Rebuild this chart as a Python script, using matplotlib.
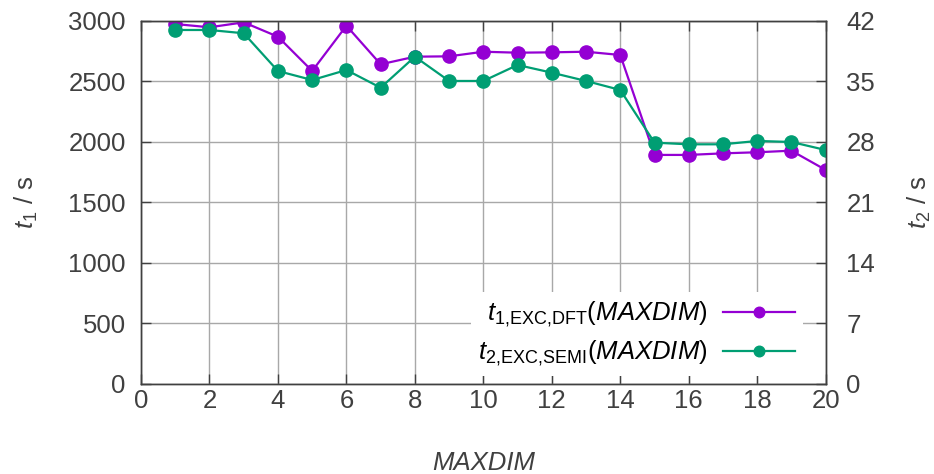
import matplotlib
matplotlib.use("Agg")
import matplotlib.pyplot as plt

plt.rcParams['font.family'] = ['Liberation Sans', 'DejaVu Sans']
plt.rcParams['mathtext.fontset'] = 'custom'
plt.rcParams['mathtext.rm'] = 'Liberation Sans'
plt.rcParams['mathtext.it'] = 'Liberation Sans:italic'
plt.rcParams['mathtext.bf'] = 'Liberation Sans:bold'

# data
maxdim = [1, 2, 3, 4, 5, 6, 7, 8, 9, 10, 11, 12, 13, 14, 15, 16, 17, 18, 19, 20]
t1_dft = [2975, 2948, 2989, 2870, 2587, 2961, 2642, 2705, 2708, 2746,
          2738, 2741, 2746, 2719, 1893, 1893, 1906, 1915, 1928, 1769]
t2_semi = [40.96, 40.96, 40.58, 36.21, 35.17, 36.33, 34.28, 37.87, 35.06, 35.06,
           36.91, 36.02, 35.06, 34.02, 27.92, 27.73, 27.73, 28.12, 28.0, 27.07]

x_ticks = list(range(0, 21, 2))
y1_ticks = list(range(0, 3001, 500))
y2_ticks = list(range(0, 43, 7))

purple = '#9400D3'
green = '#009E73'
textc = '#404040'
fs = 18.5

fig = plt.figure(figsize=(9.34, 4.74), dpi=100)
ax = fig.add_axes([0.151, 0.19, 0.733, 0.7657])
ax2 = ax.twinx()

l1, = ax.plot(maxdim, t1_dft, color=purple, lw=1.6, marker='o', ms=9.5,
              label=r'$t_{1{,}\mathrm{EXC{,}DFT}}(\mathit{MAXDIM})$')
l2, = ax2.plot(maxdim, t2_semi, color=green, lw=1.6, marker='o', ms=9.5,
               label=r'$t_{2{,}\mathrm{EXC{,}SEMI}}(\mathit{MAXDIM})$')

ax.set_xlim(0, 20)
ax.set_ylim(0, 3000)
ax2.set_ylim(0, 42)
ax.set_xticks(x_ticks)
ax.set_yticks(y1_ticks)
ax2.set_yticks(y2_ticks)

ax.grid(True, color='#a8a8a8', lw=1)
ax.set_axisbelow(True)

for a in (ax, ax2):
    for s in a.spines.values():
        s.set_color(textc)
        s.set_linewidth(1.0)
ax.tick_params(axis='x', direction='in', length=7, width=1, color=textc,
               labelsize=fs, labelcolor=textc, pad=4, top=True)
ax.tick_params(axis='y', direction='in', length=7, width=1, color=textc,
               labelsize=fs, labelcolor=textc, pad=11, right=False)
ax2.tick_params(axis='y', direction='in', length=7, width=1, color=textc,
                labelsize=fs, labelcolor=textc, pad=15)

ax.set_xlabel('MAXDIM', fontsize=fs, color=textc, style='italic', labelpad=27)
ax.set_ylabel(r'$t_1$ / s', fontsize=fs, color=textc, labelpad=20)
ax2.set_ylabel(r'$t_2$ / s', fontsize=fs, color=textc, labelpad=22)

leg = ax2.legend(handles=[l1, l2], loc='lower right', bbox_to_anchor=(0.967, 0.022),
                 borderaxespad=0, markerfirst=False, fontsize=fs, frameon=True,
                 fancybox=False, framealpha=1, facecolor='white', edgecolor='none',
                 handlelength=2.8, handletextpad=0.6, labelspacing=0.37,
                 markerscale=0.8, borderpad=0.3)
for t in leg.get_texts():
    t.set_color('black')

fig.savefig('out.png', dpi=100)
